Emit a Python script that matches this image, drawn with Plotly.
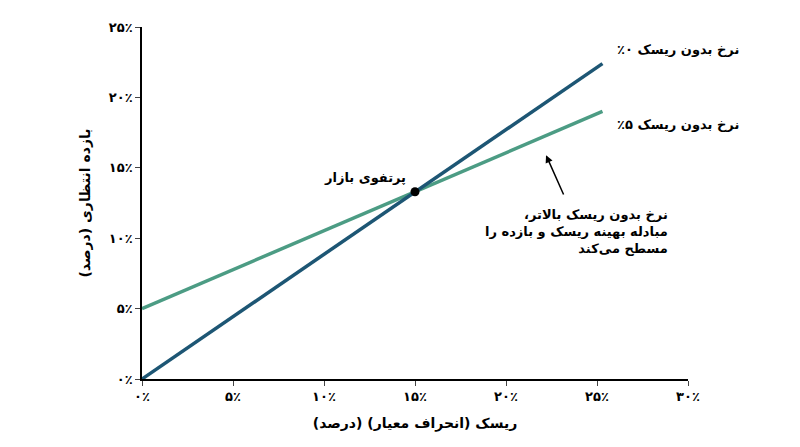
import plotly.graph_objects as go

x_vals = [0, 25.3]
rf0_y = [0, 22.4]
rf5_y = [5, 19.0]
market_x = [15]
market_y = [13.3]
x_ticks = [0, 5, 10, 15, 20, 25, 30]
x_labels = ["۰٪", "۵٪", "۱۰٪", "۱۵٪", "۲۰٪", "۲۵٪", "۳۰٪"]
y_ticks = [0, 5, 10, 15, 20, 25]
y_labels = ["۰٪", "۵٪", "۱۰٪", "۱۵٪", "۲۰٪", "۲۵٪"]

F = "DejaVu Sans"
R = "\u200f"
fig = go.Figure()
fig.add_trace(go.Scatter(x=x_vals, y=rf5_y, mode="lines", line=dict(color="#4c9c84", width=3.5)))
fig.add_trace(go.Scatter(x=x_vals, y=rf0_y, mode="lines", line=dict(color="#1d5674", width=3.5)))
fig.add_trace(go.Scatter(x=market_x, y=market_y, mode="markers", marker=dict(color="black", size=9)))

fig.add_annotation(x=26, y=23.4, text="<b>نرخ بدون ریسک ۰٪" + R + "</b>", showarrow=False, xanchor="left", font=dict(family=F, size=13, color="black"))
fig.add_annotation(x=26, y=18.1, text="<b>نرخ بدون ریسک ۵٪" + R + "</b>", showarrow=False, xanchor="left", font=dict(family=F, size=13, color="black"))
fig.add_annotation(x=14.6, y=14.3, text="<b>پرتفوی بازار</b>", showarrow=False, xanchor="right", font=dict(family=F, size=13, color="black"))
fig.add_annotation(x=29, y=10.5, text="<b>نرخ بدون ریسک بالاتر،" + R + "<br>مبادله بهینه ریسک و بازده را<br>مسطح می‌کند</b>",
                   showarrow=False, xanchor="right", align="right", font=dict(family=F, size=13, color="black"))
fig.add_annotation(x=22.2, y=15.9, ax=23.2, ay=13.0, axref="x", ayref="y", xref="x", yref="y", text="",
                   showarrow=True, arrowhead=2, arrowsize=1, arrowwidth=1.5, arrowcolor="black")

fig.update_layout(
    width=800, height=447, showlegend=False, plot_bgcolor="white", paper_bgcolor="white",
    margin=dict(l=134, r=120, t=15, b=76), font=dict(family=F, size=13, color="black"),
    xaxis=dict(range=[0, 30], tickvals=x_ticks, ticktext=["<b>" + t + "</b>" for t in x_labels], showgrid=False, zeroline=False,
               showline=True, linecolor="black", linewidth=1.5, ticks="outside", ticklen=5,
               title=dict(text="<b>ریسک (انحراف معیار) (درصد)</b>", font=dict(size=14))),
    yaxis=dict(range=[0, 25], tickvals=y_ticks, ticktext=["<b>" + t + "</b>" for t in y_labels], showgrid=False, zeroline=False,
               showline=True, linecolor="black", linewidth=1.5, ticks="outside", ticklen=5,
               title=dict(text="<b>بازده انتظاری (درصد)</b>", font=dict(size=14))),
)
fig.write_html("out.html")
